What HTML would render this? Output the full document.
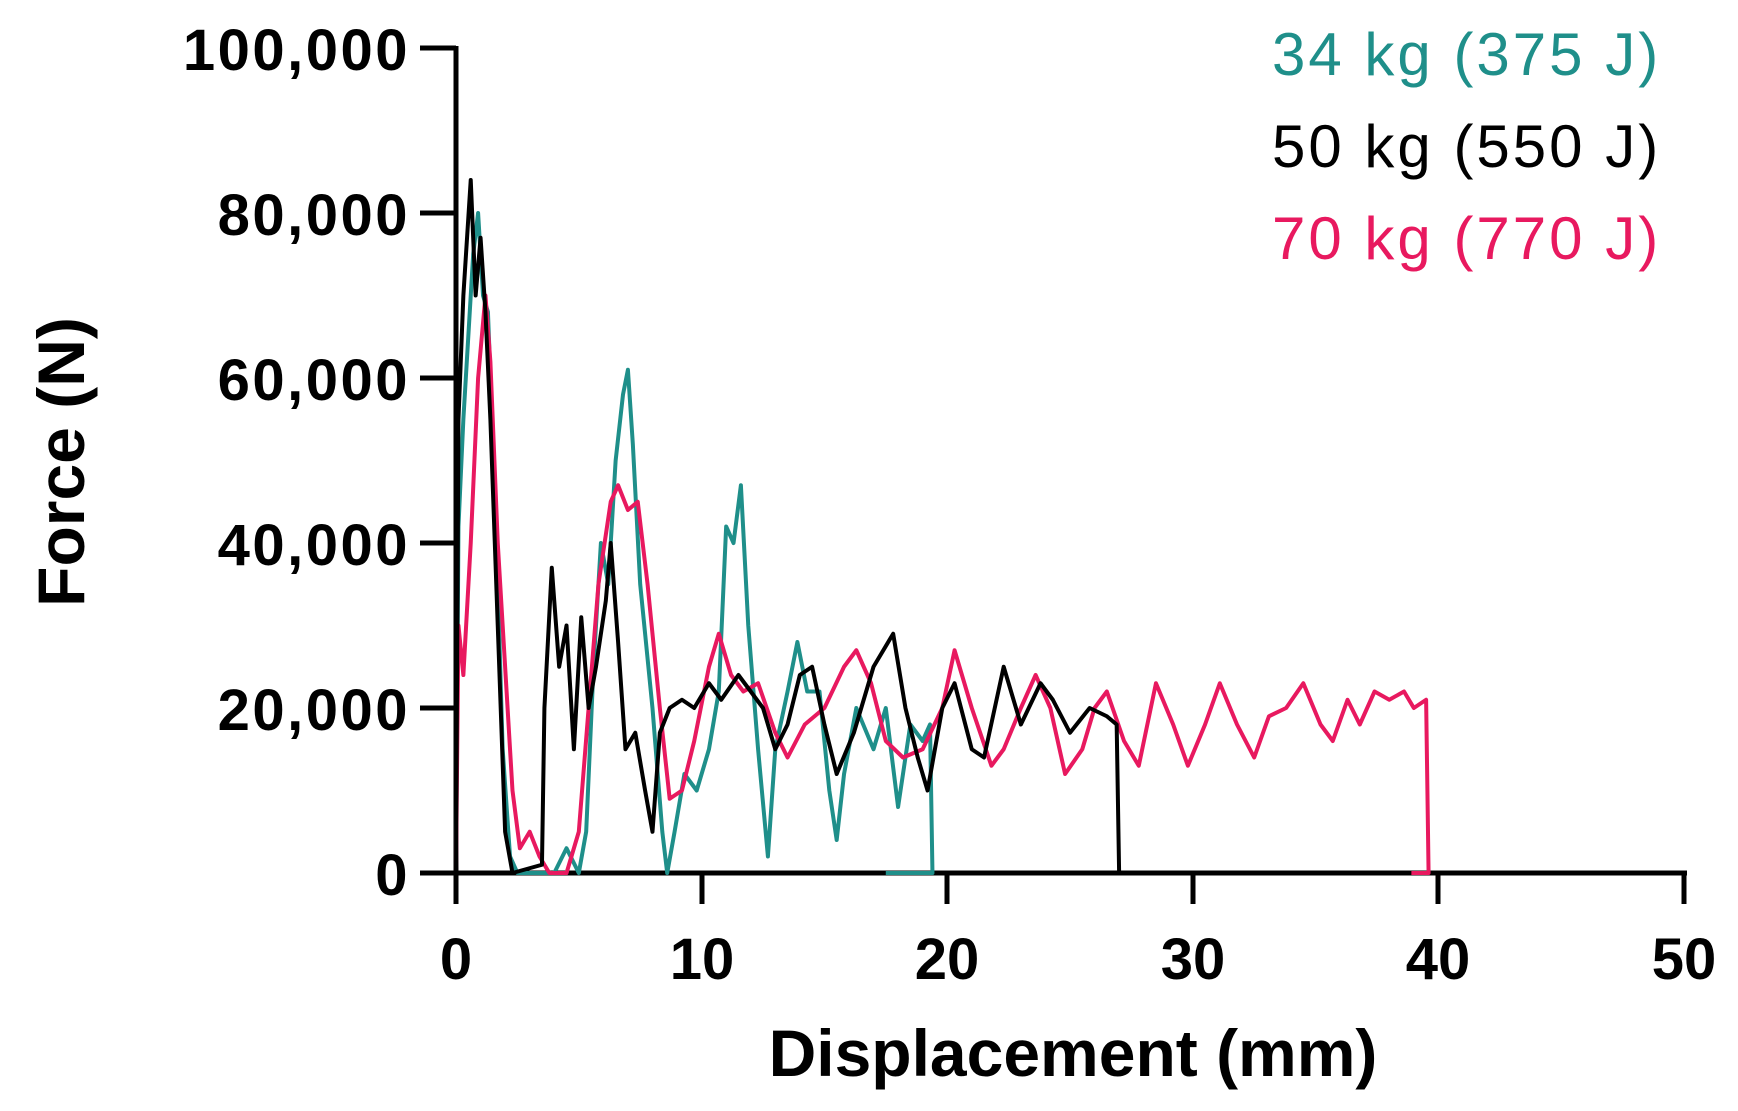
<!DOCTYPE html>
<html><head><meta charset="utf-8"><style>
html,body{margin:0;padding:0;background:#fff;}
svg{display:block;font-family:"Liberation Sans",Arial,sans-serif;}
</style></head><body>
<svg width="1738" height="1111" viewBox="0 0 1738 1111">
<g font-weight="bold" font-size="58" fill="#000" text-anchor="end" letter-spacing="2.5">
<text x="410" y="70">100,000</text>
<text x="410" y="235">80,000</text>
<text x="410" y="400">60,000</text>
<text x="410" y="565">40,000</text>
<text x="410" y="730">20,000</text>
<text x="410" y="895">0</text>
</g>
<g font-weight="bold" font-size="58" fill="#000" text-anchor="middle">
<text x="456" y="979">0</text>
<text x="702" y="979">10</text>
<text x="947" y="979">20</text>
<text x="1193" y="979">30</text>
<text x="1438" y="979">40</text>
<text x="1684" y="979">50</text>
</g>
<text x="1073" y="1076" text-anchor="middle" font-weight="bold" font-size="66">Displacement (mm)</text>
<text transform="translate(84,462) rotate(-90)" text-anchor="middle" font-weight="bold" font-size="66">Force (N)</text>
<g font-size="60" letter-spacing="3">
<text x="1272" y="75" fill="#1f8f8a">34 kg (375 J)</text>
<text x="1272" y="167" fill="#000">50 kg (550 J)</text>
<text x="1272" y="259" fill="#e8195f">70 kg (770 J)</text>
</g>
<g stroke="#000" stroke-width="5" fill="none">
<line x1="456" y1="46" x2="456" y2="876"/>
<line x1="453" y1="873" x2="1687" y2="873"/>
<line x1="420" y1="48" x2="456" y2="48"/>
<line x1="420" y1="213" x2="456" y2="213"/>
<line x1="420" y1="378" x2="456" y2="378"/>
<line x1="420" y1="543" x2="456" y2="543"/>
<line x1="420" y1="708" x2="456" y2="708"/>
<line x1="420" y1="873" x2="456" y2="873"/>
<line x1="456" y1="873" x2="456" y2="904"/>
<line x1="702" y1="873" x2="702" y2="904"/>
<line x1="947" y1="873" x2="947" y2="904"/>
<line x1="1193" y1="873" x2="1193" y2="904"/>
<line x1="1438" y1="873" x2="1438" y2="904"/>
<line x1="1684" y1="873" x2="1684" y2="904"/>
</g>
<g transform="translate(456,873) scale(24.56,-8.25)" fill="none" stroke-linejoin="round">
<polyline vector-effect="non-scaling-stroke" stroke="#1f8f8a" stroke-width="4" points="0,0 0.1,42 0.3,55 0.5,65 0.7,75 0.9,80 1.1,70 1.3,68 1.6,45 1.9,15 2.2,2 2.5,0 4,0 4.5,3 5,0 5.3,5 5.6,25 5.9,40 6.2,35 6.5,50 6.8,58 7.0,61 7.2,52 7.5,35 8.0,20 8.4,5 8.6,0 8.9,5 9.3,12 9.8,10 10.3,15 10.7,22 11.0,42 11.3,40 11.6,47 11.9,30 12.3,15 12.7,2 13.0,15 13.5,22 13.9,28 14.3,22 14.8,22 15.2,10 15.5,4 15.8,12 16.3,20 17.0,15 17.5,20 18.0,8 18.5,18 19.0,16 19.3,18 19.4,0 17.5,0"/>
<polyline vector-effect="non-scaling-stroke" stroke="#e8195f" stroke-width="4" points="0,0 0.1,30 0.3,24 0.6,40 0.9,60 1.2,70 1.4,62 1.7,40 2.0,25 2.3,10 2.6,3 3.0,5 3.4,2 3.8,0 4.5,0 5.0,5 5.4,20 5.8,35 6.3,45 6.6,47 7.0,44 7.4,45 7.8,35 8.3,20 8.7,9 9.2,10 9.7,16 10.3,25 10.7,29 11.2,24 11.7,22 12.3,23 13.0,17 13.5,14 14.2,18 15.0,20 15.8,25 16.3,27 16.9,23 17.5,16 18.2,14 19.0,15 19.8,20 20.3,27 21.0,20 21.8,13 22.3,15 23.0,20 23.6,24 24.2,20 24.8,12 25.5,15 26.0,20 26.5,22 27.2,16 27.8,13 28.5,23 29.2,18 29.8,13 30.5,18 31.1,23 31.8,18 32.5,14 33.1,19 33.8,20 34.5,23 35.2,18 35.7,16 36.3,21 36.8,18 37.4,22 38.0,21 38.6,22 39.0,20 39.5,21 39.6,0 38.9,0"/>
<polyline vector-effect="non-scaling-stroke" stroke="#000" stroke-width="4" points="0,0 0.1,55 0.3,70 0.6,84 0.8,70 1.0,77 1.2,68 1.4,55 1.7,30 2.0,5 2.3,0 3.5,1 3.6,20 3.9,37 4.2,25 4.5,30 4.8,15 5.1,31 5.4,20 5.7,25 6.1,33 6.3,40 6.6,28 6.9,15 7.3,17 7.7,10 8.0,5 8.3,17 8.7,20 9.2,21 9.7,20 10.3,23 10.8,21 11.5,24 12.0,22 12.5,20 13.0,15 13.5,18 14.0,24 14.5,25 15.0,18 15.5,12 16.2,17 17.0,25 17.8,29 18.3,20 18.8,14 19.2,10 19.8,20 20.3,23 21.0,15 21.5,14 22.3,25 23.0,18 23.8,23 24.3,21 25.0,17 25.8,20 26.5,19 26.9,18 27.0,0 26.4,0"/>
</g>
</svg>
</body></html>
